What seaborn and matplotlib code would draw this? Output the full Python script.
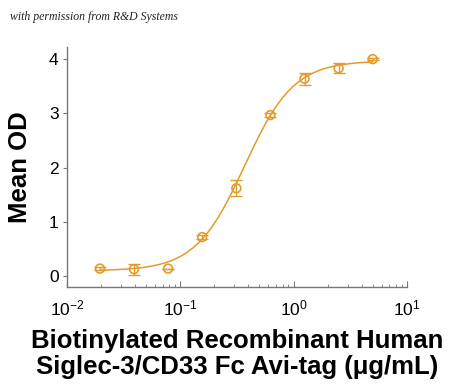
import numpy
import seaborn
import pandas
import matplotlib
matplotlib.use('Agg')
import matplotlib.pyplot as pyplt
from matplotlib.ticker import LogLocator, FixedLocator

# measured points (2-fold dilution series)
conc = [0.0195, 0.039, 0.078, 0.156, 0.3125, 0.625, 1.25, 2.5, 5.0]
mean_od = [0.14, 0.13, 0.14, 0.72, 1.62, 2.97, 3.64, 3.83, 4.00]
od_err = [0.03, 0.10, 0.0, 0.04, 0.15, 0.03, 0.11, 0.09, 0.02]

# 4PL fit parameters
fit_bottom = 0.10
fit_top = 3.97
fit_ec50 = 0.37
fit_hill = 2.0

ORANGE = '#E39B2B'

seaborn.set_theme(style='white')
pyplt.rcParams['font.family'] = ['Liberation Sans', 'DejaVu Sans']
pyplt.rcParams['mathtext.fontset'] = 'custom'
pyplt.rcParams['mathtext.rm'] = 'Liberation Sans'
pyplt.rcParams['mathtext.default'] = 'regular'
pyplt.rcParams['axes.unicode_minus'] = False
pyplt.rcParams['text.color'] = 'black'
pyplt.rcParams['axes.labelcolor'] = 'black'
pyplt.rcParams['xtick.color'] = '#777777'
pyplt.rcParams['ytick.color'] = '#777777'
pyplt.rcParams['xtick.labelcolor'] = 'black'
pyplt.rcParams['ytick.labelcolor'] = 'black'

data = pandas.DataFrame(dict(conc=conc, od=mean_od, err=od_err))

xs = numpy.logspace(numpy.log10(conc[0]), numpy.log10(conc[-1]), 300)
fit = pandas.DataFrame(dict(
    conc=xs,
    od=fit_bottom + (fit_top - fit_bottom) / (1 + (fit_ec50 / xs) ** fit_hill),
))

fig = pyplt.figure(figsize=(4.5, 3.9), dpi=100)
ax = fig.add_axes([0.149, 0.264, 0.755, 0.615])

seaborn.lineplot(data=fit, x='conc', y='od', ax=ax, color=ORANGE, linewidth=1.1)
ax.errorbar(
    data['conc'], data['od'], yerr=data['err'],
    fmt='none', ecolor=ORANGE, elinewidth=1.0, capsize=4, capthick=1.0,
)
seaborn.scatterplot(
    data=data, x='conc', y='od', ax=ax,
    marker='o', s=40, facecolor='none', edgecolor=ORANGE, linewidth=1.2, zorder=5,
)

ax.set_xscale('log')
ax.set_xlim(1e-2, 1e1)
ax.set_ylim(-0.2, 4.22)
ax.yaxis.set_major_locator(FixedLocator([0, 1, 2, 3, 4]))
ax.xaxis.set_major_locator(LogLocator(base=10, numticks=10))
ax.xaxis.set_minor_locator(LogLocator(base=10, subs=numpy.arange(2, 10), numticks=20))

for side in ['top', 'right']:
    ax.spines[side].set_visible(False)
for side in ['left', 'bottom']:
    ax.spines[side].set_color('#777777')
    ax.spines[side].set_linewidth(1.0)

ax.tick_params(axis='x', which='major', direction='in', length=4, width=0.8,
               labelsize=12.5, pad=8, bottom=True)
ax.tick_params(axis='x', which='minor', direction='in', length=2.5, width=0.6,
               bottom=True)
ax.tick_params(axis='y', which='major', direction='out', length=3, width=0.8,
               labelsize=12.5, pad=3, left=True)

ax.set_xlabel('Biotinylated Recombinant Human\nSiglec-3/CD33 Fc Avi-tag (\u03bcg/mL)',
              fontsize=18.5, fontweight='bold', labelpad=8, linespacing=1.1)
ax.set_ylabel('Mean OD', fontsize=18.5, fontweight='bold', labelpad=12)

fig.text(0.022, 0.948, 'with permission from R&D Systems', fontsize=8.5,
         style='italic', family='Liberation Serif', color='#222222')

fig.savefig('out.png', dpi=100)
